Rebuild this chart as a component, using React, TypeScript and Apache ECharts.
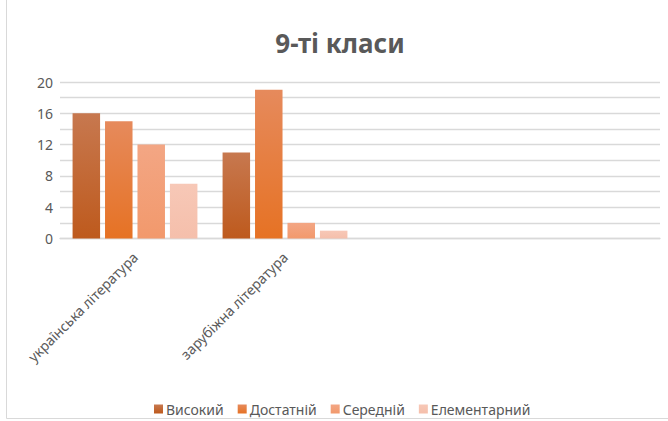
import React, { useEffect, useRef } from "react";
import * as echarts from "echarts";

const titleText = "9-ті класи";
const categories = ["українська література", "зарубіжна література", "", ""];
const seriesNames = ["Високий", "Достатній", "Середній", "Елементарний"];
const vysokyi = [16, 11, null, null];
const dostatnii = [15, 19, null, null];
const serednii = [12, 2, null, null];
const elementarnyi = [7, 1, null, null];
const yTicks = [0, 4, 8, 12, 16, 20];

const gradients: [string, string][] = [
  ["#C7784F", "#BE5A1D"],
  ["#E68A5C", "#E67224"],
  ["#F3A684", "#F2996C"],
  ["#F7C8B7", "#F5BFAB"],
];

const FONT = "'Noto Sans', sans-serif";

export default function App() {
  const ref = useRef<HTMLDivElement>(null);
  useEffect(() => {
    if (!ref.current) return;
    const chart = echarts.init(ref.current, undefined, { renderer: "svg" });
    const values = [vysokyi, dostatnii, serednii, elementarnyi];
    chart.setOption({
      animation: false,
      backgroundColor: "#ffffff",
      textStyle: { fontFamily: FONT },
      title: {
        text: titleText,
        left: 335,
        textAlign: "center",
        top: 25,
        textStyle: { fontFamily: FONT, fontSize: 26, fontWeight: "bold", color: "#595959" },
      },
      legend: {
        data: seriesNames,
        left: 149,
        top: 397,
        itemWidth: 9,
        itemHeight: 9,
        itemGap: 14,
        icon: "rect",
        textStyle: { fontFamily: FONT, fontSize: 14, color: "#595959", padding: [0, 0, 0, -2] },
      },
      grid: { left: 60, right: 8, top: 82, bottom: 182.5, containLabel: false },
      xAxis: {
        type: "category",
        data: categories,
        axisLine: { show: true, lineStyle: { color: "#D9D9D9", width: 1.3 } },
        axisTick: { show: false },
        axisLabel: {
          interval: 0,
          rotate: 45,
          margin: 16,
          fontFamily: FONT,
          fontSize: 14,
          color: "#595959",
        },
        splitLine: { show: false },
      },
      yAxis: {
        type: "value",
        min: 0,
        max: 20,
        interval: 2,
        axisLine: { show: false },
        axisTick: { show: false },
        axisLabel: {
          margin: 7,
          fontFamily: FONT,
          fontSize: 14,
          color: "#595959",
          formatter: (v: number) => (yTicks.includes(v) ? String(v) : ""),
        },
        splitLine: { lineStyle: { color: "#D9D9D9", width: 1.3 } },
      },
      series: seriesNames.map((name, i) => ({
        name,
        type: "bar",
        data: values[i],
        barWidth: 27.5,
        barGap: "18%",
        itemStyle: {
          color: new echarts.graphic.LinearGradient(0, 0, 0, 1, [
            { offset: 0, color: gradients[i][0] },
            { offset: 1, color: gradients[i][1] },
          ]),
        },
      })),
      graphic: [
        {
          type: "polyline",
          shape: { points: [[6.5, -2], [6.5, 418.5], [670, 418.5]] },
          style: { stroke: "#D9D9D9", fill: null, lineWidth: 1 },
          silent: true,
        },
      ],
    });
    return () => chart.dispose();
  }, []);
  return (
    <div
      ref={ref}
      style={{ position: "fixed", left: 0, top: 0, width: 668, height: 421 }}
    />
  );
}
